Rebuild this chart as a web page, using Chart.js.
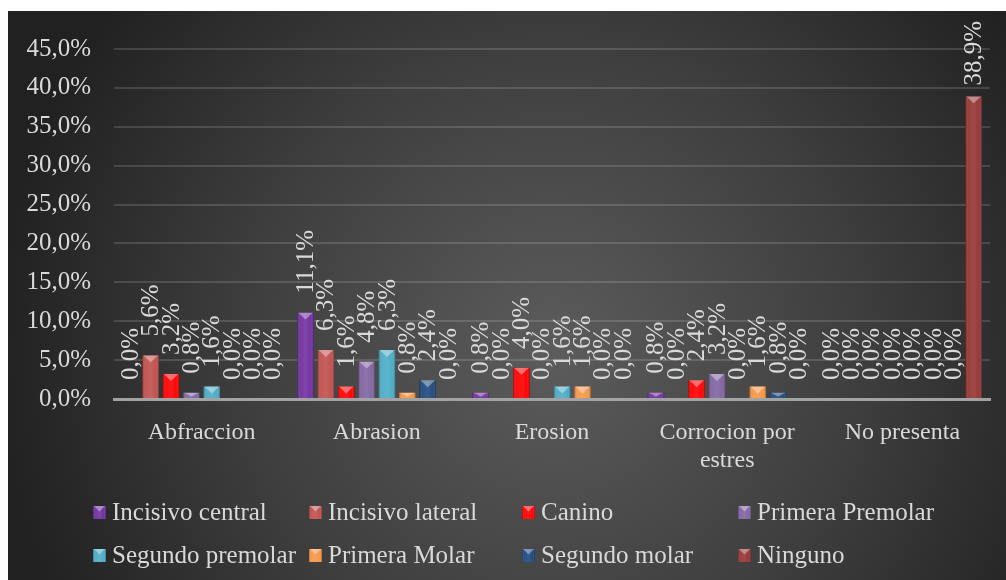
<!DOCTYPE html>
<html>
<head>
<meta charset="utf-8">
<script src="https://cdn.jsdelivr.net/npm/chart.js@4.4.0/dist/chart.umd.min.js"></script>
<style>
  html, body { margin: 0; padding: 0; background: #ffffff; }
  #wrap { position: absolute; left: 8px; top: 11px; width: 998px; height: 569px; }
  canvas { display: block; }
</style>
</head>
<body>
<div id="wrap"><canvas id="chart" width="998" height="569"></canvas></div>
<script>
// Categories (lesion type) and one array per tooth group, in percent
const categories = ['Abfraccion', 'Abrasion', 'Erosion', ['Corrocion por', 'estres'], 'No presenta'];
const seriesNames = ['Incisivo central', 'Incisivo lateral', 'Canino', 'Primera Premolar',
                     'Segundo premolar', 'Primera Molar', 'Segundo molar', 'Ninguno'];
const incisivoCentral = [0.0, 11.1, 0.8, 0.8, 0.0];
const incisivoLateral = [5.6, 6.3, 0.0, 0.0, 0.0];
const canino          = [3.2, 1.6, 4.0, 2.4, 0.0];
const primeraPremolar = [0.8, 4.8, 0.0, 3.2, 0.0];
const segundoPremolar = [1.6, 6.3, 1.6, 0.0, 0.0];
const primeraMolar    = [0.0, 0.8, 1.6, 1.6, 0.0];
const segundoMolar    = [0.0, 2.4, 0.0, 0.8, 0.0];
const ninguno         = [0.0, 0.0, 0.0, 0.0, 38.9];
const yTickValues     = [0, 5, 10, 15, 20, 25, 30, 35, 40, 45];

const seriesValues = [incisivoCentral, incisivoLateral, canino, primeraPremolar,
                      segundoPremolar, primeraMolar, segundoMolar, ninguno];
const seriesColors = ['#7030A0', '#C0504D', '#FF0000', '#8064A2',
                      '#4BACC6', '#F79646', '#1F497D', '#943634'];

const FONT = "'Liberation Serif', 'Times New Roman', serif";
const TEXT = '#d9d9d9';
const fmt = v => v.toFixed(1).replace('.', ',') + '%';

// Bevelled "3D" look: side shading plus a light facet at the top
function drawBevel(ctx, l, top, w, h) {
  const r = l + w, cx = l + w / 2;
  const g = ctx.createLinearGradient(l, 0, r, 0);
  g.addColorStop(0, 'rgba(0,0,0,0.32)');
  g.addColorStop(0.18, 'rgba(255,255,255,0.05)');
  g.addColorStop(0.5, 'rgba(255,255,255,0.10)');
  g.addColorStop(0.82, 'rgba(255,255,255,0.02)');
  g.addColorStop(1, 'rgba(0,0,0,0.35)');
  ctx.fillStyle = g;
  ctx.fillRect(l, top, w, h);
  const th = Math.min(w * 0.42, h * 0.7);
  ctx.beginPath();
  ctx.moveTo(l + 1, top);
  ctx.lineTo(r - 1, top);
  ctx.lineTo(cx, top + th);
  ctx.closePath();
  ctx.fillStyle = 'rgba(255,255,255,0.38)';
  ctx.fill();
}

const backgroundPlugin = {
  id: 'backgroundPlugin',
  beforeDraw(chart) {
    const { ctx, width, height } = chart;
    ctx.save();
    const g = ctx.createRadialGradient(545, 340, 0, 545, 340, 560);
    g.addColorStop(0, '#5c5c5c');
    g.addColorStop(0.55, '#3e3e3e');
    g.addColorStop(1, '#212121');
    ctx.fillStyle = g;
    ctx.fillRect(0, 0, width, height);
    ctx.restore();
  }
};

const barStylePlugin = {
  id: 'barStylePlugin',
  afterDatasetsDraw(chart) {
    const ctx = chart.ctx;
    ctx.save();
    chart.data.datasets.forEach((ds, di) => {
      const meta = chart.getDatasetMeta(di);
      meta.data.forEach((bar, i) => {
        if (!ds.data[i]) return;
        const p = bar.getProps(['x', 'y', 'base', 'width'], true);
        drawBevel(ctx, p.x - p.width / 2, p.y, p.width, p.base - p.y);
      });
    });
    ctx.restore();
  }
};

// Vertical value labels above every bar
const valueLabelPlugin = {
  id: 'valueLabelPlugin',
  afterDatasetsDraw(chart) {
    const ctx = chart.ctx;
    ctx.save();
    ctx.font = '25px ' + FONT;
    ctx.fillStyle = TEXT;
    ctx.textAlign = 'left';
    ctx.textBaseline = 'middle';
    chart.data.datasets.forEach((ds, di) => {
      const meta = chart.getDatasetMeta(di);
      meta.data.forEach((bar, i) => {
        const txt = fmt(ds.data[i]);
        const p = bar.getProps(['x', 'y'], true);
        const w = ctx.measureText(txt).width;
        let start = p.y - 19;
        if (start - w < 10) start = 10 + w;
        ctx.save();
        ctx.translate(p.x + 1, start);
        ctx.rotate(-Math.PI / 2);
        ctx.fillText(txt, 0, 0);
        ctx.restore();
      });
    });
    ctx.restore();
  }
};

// Legend laid out on a fixed four-column grid
const legendGridPlugin = {
  id: 'legendGridPlugin',
  afterDraw(chart) {
    const ctx = chart.ctx;
    const colX = [85, 301, 514, 730];
    const rowY = [501, 544];
    ctx.save();
    ctx.font = '25px ' + FONT;
    ctx.textAlign = 'left';
    ctx.textBaseline = 'middle';
    seriesNames.forEach((name, i) => {
      const x = colX[i % 4], y = rowY[Math.floor(i / 4)];
      ctx.fillStyle = seriesColors[i];
      ctx.fillRect(x, y - 6, 13, 13);
      drawBevel(ctx, x, y - 6, 13, 13);
      ctx.fillStyle = TEXT;
      ctx.fillText(name, x + 19, y + 1);
    });
    ctx.restore();
  }
};

new Chart(document.getElementById('chart'), {
  type: 'bar',
  data: {
    labels: categories,
    datasets: seriesNames.map((name, i) => ({
      label: name,
      data: seriesValues[i],
      backgroundColor: seriesColors[i],
      borderWidth: 0,
      categoryPercentage: 0.93,
      barPercentage: 0.81
    }))
  },
  options: {
    responsive: false,
    animation: false,
    layout: { padding: { top: 30, right: 16, left: 0, bottom: 0 } },
    plugins: { legend: { display: false }, tooltip: { enabled: false } },
    scales: {
      x: {
        grid: { display: false },
        border: { display: true, color: '#a3a3a3', width: 3 },
        ticks: { color: TEXT, font: { family: FONT, size: 24, lineHeight: 1.15 }, padding: 12, maxRotation: 0, autoSkip: false },
        afterFit(scale) { scale.height = 181; }
      },
      y: {
        min: 0,
        max: 45,
        afterBuildTicks(scale) { scale.ticks = yTickValues.map(v => ({ value: v })); },
        grid: { color: 'rgba(255,255,255,0.14)', lineWidth: 2, drawTicks: false },
        border: { display: false },
        ticks: { color: TEXT, font: { family: FONT, size: 25 }, padding: 23, callback: v => fmt(v) },
        afterFit(scale) { scale.width = 106; }
      }
    }
  },
  plugins: [backgroundPlugin, barStylePlugin, valueLabelPlugin, legendGridPlugin]
});
</script>
</body>
</html>
